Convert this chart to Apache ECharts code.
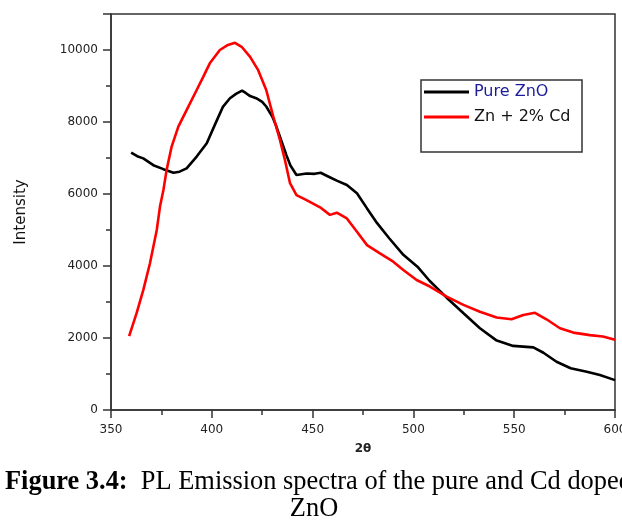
<!DOCTYPE html>
<html>
<head>
<meta charset="utf-8">
<script src="https://cdn.jsdelivr.net/npm/echarts@6/dist/echarts.min.js"></script>
<style>
html,body{margin:0;padding:0;background:#fff;overflow:hidden;}
#chart{width:622px;height:523px;}
</style>
</head>
<body>
<div id="chart"></div>
<script>
// ---- data ----
var seriesNames = ['Pure ZnO', 'Zn + 2% Cd'];
var pureX = [360,363,366,371,376,381,384,387.5,392.5,397.5,401.5,405.5,409,412,415,417,419,422,425,427,430,432,435.5,437,439,442,447,451,454,458,462,467,472,477,482,488,495,502,508,516.5,525,533,541,549.5,559.5,564.5,571,578,586,592.5,600];
var pureY = [7150,7050,6990,6800,6690,6590,6620,6710,7040,7410,7920,8420,8660,8780,8870,8800,8720,8660,8560,8430,8150,7880,7320,7080,6790,6530,6570,6560,6590,6480,6370,6250,6020,5600,5190,4770,4310,3980,3590,3120,2680,2270,1940,1780,1740,1590,1340,1160,1065,970,830];
var cdX = [359,362.7,366,369.3,372.7,374.3,376,377.6,380,383.4,387.5,392.5,395.8,399,404,408,411.5,414.8,419,423,427,430.5,433.8,436.3,438.8,442,447,453.7,458.6,462,467,472,477,483.4,490,495,501.6,508.2,516.5,524.8,533,541.3,548.7,554.5,560.3,566,572.7,579.3,587.5,594,600];
var cdY = [2050,2690,3330,4070,5000,5650,6110,6670,7300,7870,8330,8890,9260,9630,10000,10140,10200,10090,9810,9440,8890,8150,7500,6940,6300,5970,5830,5630,5420,5480,5320,4950,4580,4350,4120,3890,3610,3430,3150,2920,2730,2570,2520,2640,2700,2520,2270,2150,2080,2040,1950];
var xTicks = [350,400,450,500,550,600];
var yTicks = [0,2000,4000,6000,8000,10000];
var xName = '2θ';
var yName = 'Intensity';
var captionBold = 'Figure 3.4:';
var captionRest = ' PL Emission spectra of the pure and Cd doped';
var captionLine2 = 'ZnO';

function pairs(xs, ys){ return xs.map(function(x,i){ return [x, ys[i]]; }); }

var chart = echarts.init(document.getElementById('chart'), null, {renderer:'canvas', width:622, height:523});
var labelStyle = {fontFamily:'DejaVu Sans', fontSize:12, color:'#222'};
chart.setOption({
  animation:false,
  backgroundColor:'#fff',
  grid:{left:111, width:504, top:14, height:396, show:true, borderColor:'#333', borderWidth:1.5,
        containLabel:false, outerBoundsMode:'none'},
  legend:{
    show:true, orient:'vertical', left:424, top:84, padding:0, itemWidth:45, itemHeight:3, itemGap:9,
    icon:'rect',
    data:[
      {name:seriesNames[0], textStyle:{color:'#1c1c9a'}},
      {name:seriesNames[1], textStyle:{color:'#111'}}
    ],
    textStyle:{fontFamily:'DejaVu Sans', fontSize:16}
  },
  xAxis:{
    type:'value', min:xTicks[0], max:xTicks[xTicks.length-1], interval:50,
    name:xName, nameLocation:'middle', nameGap:33,
    nameTextStyle:{fontFamily:'DejaVu Sans', fontSize:12, fontWeight:'bold', color:'#222'},
    axisLine:{show:true, lineStyle:{color:'#333', width:1.5}},
    axisTick:{show:true, inside:false, length:8, lineStyle:{color:'#333', width:1.5}},
    minorTick:{show:true, splitNumber:2, length:5, lineStyle:{color:'#333', width:1.5}},
    axisLabel:Object.assign({margin:14}, labelStyle),
    splitLine:{show:false}
  },
  yAxis:{
    type:'value', min:yTicks[0], max:11000, interval:2000,
    name:yName, nameLocation:'middle', nameGap:82, nameRotate:90,
    nameTextStyle:{fontFamily:'DejaVu Sans', fontSize:15, color:'#111'},
    axisLine:{show:true, lineStyle:{color:'#333', width:1.5}},
    axisTick:{show:true, inside:false, length:8, lineStyle:{color:'#333', width:1.5}},
    minorTick:{show:true, splitNumber:2, length:5, lineStyle:{color:'#333', width:1.5}},
    axisLabel:Object.assign({margin:13, showMaxLabel:false,
      formatter:function(v){ return yTicks.indexOf(v) >= 0 ? String(v) : ''; }}, labelStyle),
    splitLine:{show:false}
  },
  series:[
    {name:seriesNames[0], type:'line', data:pairs(pureX,pureY), showSymbol:false, symbol:'none',
     lineStyle:{color:'#000', width:2.6}, itemStyle:{color:'#000'}},
    {name:seriesNames[1], type:'line', data:pairs(cdX,cdY), showSymbol:false, symbol:'none',
     lineStyle:{color:'#ff0000', width:2.6}, itemStyle:{color:'#ff0000'}}
  ],
  graphic:[
    {type:'rect', shape:{x:421, y:80, width:161, height:72}, style:{fill:null, stroke:'#333', lineWidth:1.5}, z:10},
    {type:'text', x:5, y:482, style:{
      text:'{b|'+captionBold+'}{r| '+captionRest+'}', verticalAlign:'middle',
      rich:{b:{fontFamily:'Liberation Serif', fontWeight:'bold', fontSize:26.4, fill:'#000'},
            r:{fontFamily:'Liberation Serif', fontSize:26.4, fill:'#000'}}
    }},
    {type:'text', x:314, y:509, style:{text:captionLine2, fontFamily:'Liberation Serif', fontSize:26.4, fill:'#000', align:'center', verticalAlign:'middle'}}
  ]
});
</script>
</body>
</html>
